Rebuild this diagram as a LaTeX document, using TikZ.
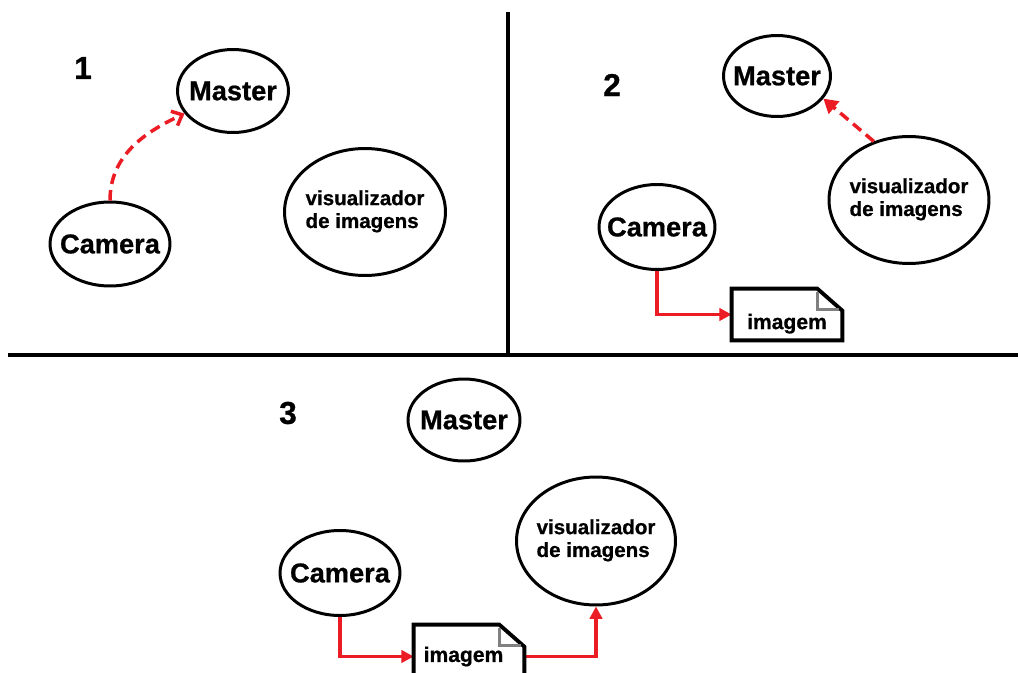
\documentclass[tikz,border=0pt]{standalone}
\usepackage{fontspec}
\setmainfont{Liberation Sans}
\newfontfamily\heavyfont{Liberation Sans}[FakeBold=0.8]
\usetikzlibrary{shapes.geometric,arrows.meta,calc}
\definecolor{LinkRed}{RGB}{235,28,36}

\begin{document}
\begin{tikzpicture}[x=0.02cm,y=-0.02cm,
	proc/.style={ellipse,draw,line width=1.7pt,inner sep=0pt,
		font=\fontsize{15.5}{18}\selectfont\heavyfont\bfseries},
	viewer/.style={proc,font=\fontsize{11.7}{13}\selectfont\heavyfont\bfseries},
	docnode/.style={minimum width=2.2cm,minimum height=1.02cm,inner sep=0pt,
		text height=16.6pt,text depth=0pt,
		font=\fontsize{12}{13}\selectfont\heavyfont\bfseries},
	num/.style={font=\fontsize{18}{20}\selectfont\heavyfont\bfseries},
	msg/.style={draw=LinkRed,line width=2pt,dash pattern=on 6pt off 3.5pt},
	flow/.style={draw=LinkRed,line width=1.8pt,-{Triangle[length=7pt,width=7pt]}}]
\useasboundingbox (0,0) rectangle (1018,673);
\def\twolines{\makebox[0pt]{\begin{tabular}{@{}l@{}}visualizador\\de imagens\end{tabular}}}
%% Dividers
\draw[line width=2.4pt] (508,12) -- (508,355);
\draw[line width=2.4pt] (8,355) -- (1018,355);
%%%%%%%%%%%%%%
%% Step 1 %%
%%%%%%%%%%%%%%
\node[num] (n1) at (83,68) {1};
\node[proc,minimum width=2.22cm,minimum height=1.66cm] (master1) at (233,91) {\makebox[0pt]{Master}};
\node[proc,minimum width=2.4cm,minimum height=1.68cm] (camera1) at (110,244) {\makebox[0pt]{Camera}};
\node[viewer,minimum width=3.22cm,minimum height=2.54cm] (viewer1) at (365,212) {\twolines};
\draw[msg,-{Straight Barb[length=5pt,width=9pt]}] (camera1.north) to[out=90,in=205] (master1.205);
%%%%%%%%%%%%%%
%% Step 2 %%
%%%%%%%%%%%%%%
\node[num] (n2) at (612,85) {2};
\node[proc,minimum width=2.14cm,minimum height=1.62cm] (master2) at (777,76) {\makebox[0pt]{Master}};
\node[viewer,minimum width=3.2cm,minimum height=2.54cm] (viewer2) at (909,200) {\twolines};
\node[proc,minimum width=2.32cm,minimum height=1.7cm] (camera2) at (657,227) {\makebox[0pt]{Camera}};
\node[docnode] (doc2) at (787,314.5) {imagem};
\draw[msg,-{Triangle[length=8pt,width=9pt]}] (viewer2.121) -- (master2.334);
\draw[flow] (camera2.south) |- (doc2.west);
%%%%%%%%%%%%%%
%% Step 3 %%
%%%%%%%%%%%%%%
\node[num] (n3) at (288,413) {3};
\node[proc,minimum width=2.24cm,minimum height=1.64cm] (master3) at (464,420) {\makebox[0pt]{Master}};
\node[proc,minimum width=2.4cm,minimum height=1.7cm] (camera3) at (340,573) {\makebox[0pt]{Camera}};
\node[viewer,minimum width=3.18cm,minimum height=2.56cm] (viewer3) at (596,541) {\twolines};
\node[docnode,text height=13pt] (doc3) at (469,650.5) {\makebox[0pt]{\hspace{-0.22cm}imagem}};
\draw[flow] (camera3.south) |- ($(doc3.west)+(0,6)$);
\draw[flow] ($(doc3.east)+(0,6)$) -| (viewer3.south);
%% Document outlines
\foreach \d in {doc2,doc3}
{
	\draw[line width=2.2pt] (\d.north west) -- ($(\d.north east)+(-25,0)$)
		-- ($(\d.north east)+(0,22)$) -- (\d.south east) -- (\d.south west) -- cycle;
	\draw[gray,line width=1.6pt] ($(\d.north east)+(-25,3)$) -- ($(\d.north east)+(-25,21)$)
		-- ($(\d.north east)+(-3,21)$);
}
\end{tikzpicture}
\end{document}
